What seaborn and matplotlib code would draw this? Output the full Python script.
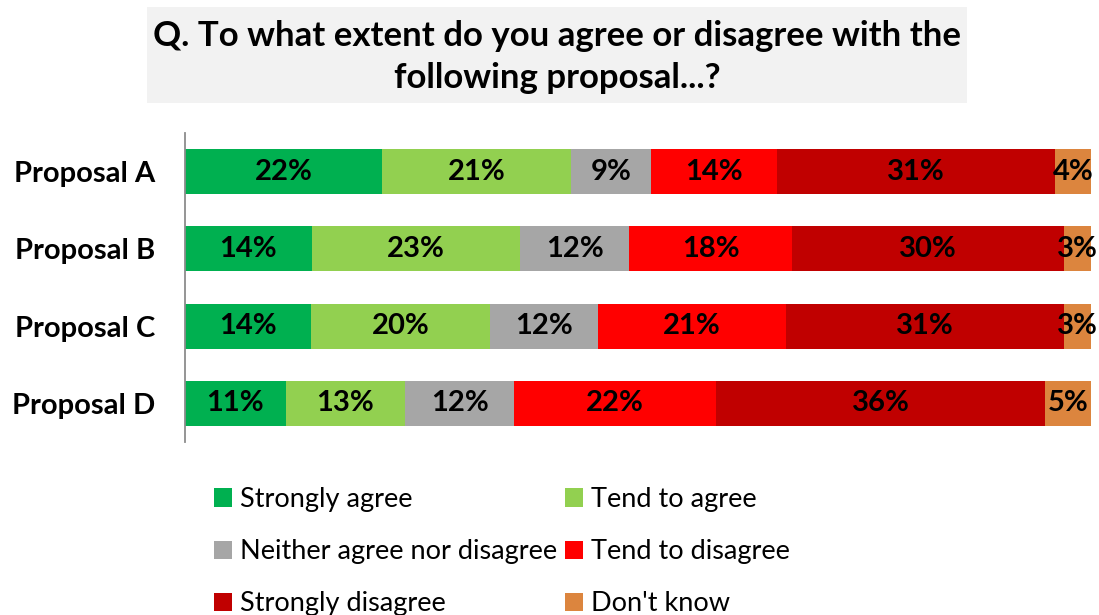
import numpy as np
import pandas as pd
import matplotlib
matplotlib.use("Agg")
import matplotlib.pyplot as plt
from matplotlib.patches import Patch, Rectangle
import seaborn as sns

# ---- data ----
proposals = ["Proposal A", "Proposal B", "Proposal C", "Proposal D"]
responses = ["Strongly agree", "Tend to agree", "Neither agree nor disagree",
             "Tend to disagree", "Strongly disagree", "Don't know"]
strongly_agree = [22, 14, 14, 11]
tend_agree = [21, 23, 20, 13]
neither = [9, 12, 12, 12]
tend_disagree = [14, 18, 21, 22]
strongly_disagree = [31, 30, 31, 36]
dont_know = [4, 3, 3, 5]
colors = ["#00B050", "#92D050", "#A6A6A6", "#FF0000", "#C00000", "#DC853E"]
title = "Q. To what extent do you agree or disagree with the\nfollowing proposal...?"

sns.set_theme(style="white")
plt.rcParams["font.family"] = ["Lato", "DejaVu Sans"]
plt.rcParams["text.color"] = "black"

vals = np.array([strongly_agree, tend_agree, neither, tend_disagree,
                 strongly_disagree, dont_know], dtype=float).T  # rows = proposals
shares = vals / vals.sum(axis=1, keepdims=True) * 100
cum = np.cumsum(shares, axis=1)

fig = plt.figure(figsize=(10.99, 6.15), dpi=100)
ax = fig.add_axes([185 / 1099, 1 - 442 / 615, (1091 - 185) / 1099, (442 - 133) / 615])

# draw from the outermost cumulative layer inwards
for k in range(len(responses) - 1, -1, -1):
    df = pd.DataFrame({"proposal": proposals, "value": cum[:, k]})
    sns.barplot(data=df, x="value", y="proposal", orient="h", color=colors[k],
                saturation=1, width=0.58, ax=ax, linewidth=0)

# labels
for i in range(len(proposals)):
    for k in range(len(responses)):
        start = cum[i, k] - shares[i, k]
        ax.text(start + shares[i, k] / 2, i, f"{int(vals[i, k])}%",
                ha="center", va="center", fontsize=21, fontweight="bold", color="black")

ax.set_xlim(0, 100)
ax.set_ylim(3.5, -0.5)
ax.set_xlabel("")
ax.set_ylabel("")
ax.set_xticks([])
ax.tick_params(axis="y", length=0, pad=21.5)
for lab in ax.get_yticklabels():
    lab.set_fontsize(21)
    lab.set_fontweight("bold")
    lab.set_color("black")
for s in ["top", "right", "bottom"]:
    ax.spines[s].set_visible(False)
ax.spines["left"].set_color("#8C8C8C")
ax.spines["left"].set_linewidth(1.3)

# title box
fig.patches.append(Rectangle((147 / 1099, 1 - 103 / 615), (967 - 147) / 1099, 96 / 615,
                             transform=fig.transFigure, facecolor="#F2F2F2",
                             edgecolor="none", zorder=0))
fig.text(557 / 1099, 1 - 57 / 615, title, ha="center", va="center",
         fontsize=25, fontweight="bold", linespacing=1.36, color="black")

# legend: row-major order -> reorder for column-major fill
handles = [Patch(facecolor=c, edgecolor="none") for c in colors]
order = [0, 2, 4, 1, 3, 5]
fig.legend([handles[i] for i in order], [responses[i] for i in order],
           ncol=2, loc="upper left", bbox_to_anchor=(214 / 1099, 1 - 487 / 615),
           frameon=False, fontsize=19.5, handlelength=0.65, handleheight=0.65,
           handletextpad=0.3, columnspacing=0.3, labelspacing=1.0,
           borderaxespad=0, borderpad=0, labelcolor="black")

fig.savefig("out.png", dpi=100)
